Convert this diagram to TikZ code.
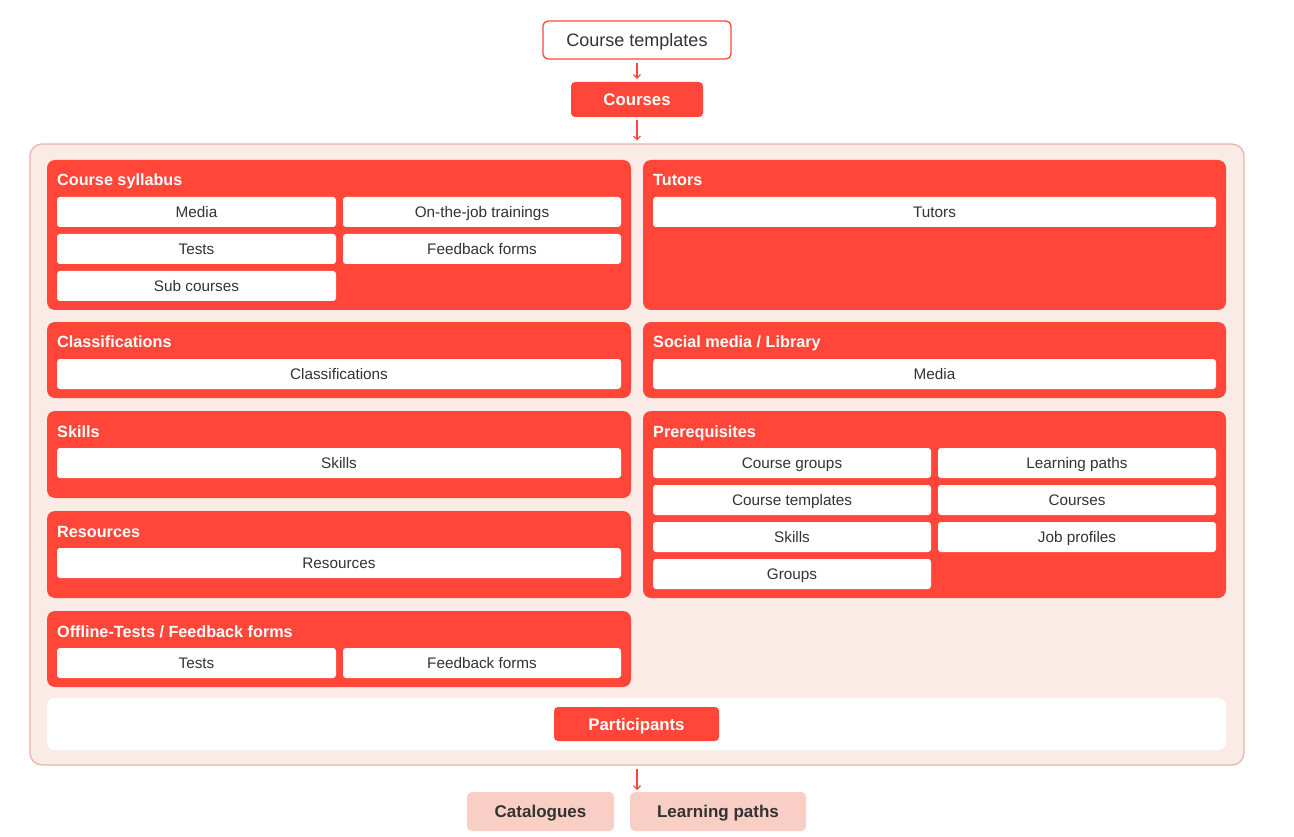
\documentclass[tikz,border=0pt]{standalone}
\usepackage{fontspec}
\setmainfont{Liberation Sans}
\usetikzlibrary{arrows.meta}
\definecolor{redA}{HTML}{FF4638}
\definecolor{outerfill}{HTML}{FBEBE7}
\definecolor{outerdraw}{HTML}{E8B2A5}
\definecolor{pinkbox}{HTML}{F8CEC5}
\definecolor{txt}{HTML}{333333}
\newcommand\bx[7]{\node[#6, minimum width={(#4-#2)*1pt}, minimum height={(#5-#3)*1pt}] (#1) at ({(#2+#4)/2},{(#3+#5)/2}) {#7};}
\newcommand\hd[4]{\node[head] (#1) at (#2,#3) {#4};}
\tikzset{
  panel/.style={fill=redA, rounded corners=8pt, inner sep=0pt},
  item/.style={fill=white, rounded corners=3pt, inner sep=0pt, text=txt, text height=11pt, text depth=0pt, font=\fontsize{15.3}{17}\selectfont},
  head/.style={anchor=base west, inner sep=0pt, text=white, font=\bfseries\fontsize{16.2}{18}\selectfont},
  topwhite/.style={draw=redA, line width=1.3pt, fill=white, rounded corners=5pt, inner sep=0pt, text=txt, text height=12.9pt, text depth=0pt, font=\fontsize{18}{20}\selectfont},
  topred/.style={fill=redA, rounded corners=4pt, inner sep=0pt, text=white, text height=12pt, text depth=0pt, font=\bfseries\fontsize{16.8}{19}\selectfont},
  pinkb/.style={fill=pinkbox, rounded corners=5pt, inner sep=0pt, text=txt, text height=12.2pt, text depth=0pt, font=\bfseries\fontsize{17}{19}\selectfont},
  arr/.style={draw=redA, line width=1.1pt, -{Straight Barb[length=3.5pt,width=7pt]}, shorten <=3pt, shorten >=3pt},
}
\begin{document}
\begin{tikzpicture}[x=1pt,y=-1pt]
\useasboundingbox (0,0) rectangle (1294,837);
% top
\bx{ct}{543}{21}{731}{59}{topwhite}{Course templates}
\bx{cs}{571}{82}{703}{117}{topred}{Courses}
% outer container
\bx{outer}{30}{144}{1244}{765}{draw=outerdraw, line width=1.2pt, fill=outerfill, rounded corners=12pt, inner sep=0pt}{}
\draw[arr] (ct.south) -- (cs.north);
\draw[arr] (cs.south) -- (outer.north);
% panels left
\bx{p1}{47}{160}{631}{310}{panel}{}
\bx{p2}{47}{322}{631}{398}{panel}{}
\bx{p3}{47}{411}{631}{498}{panel}{}
\bx{p4}{47}{511}{631}{598}{panel}{}
\bx{p5}{47}{611}{631}{687}{panel}{}
% panels right
\bx{q1}{643}{160}{1226}{310}{panel}{}
\bx{q2}{643}{322}{1226}{398}{panel}{}
\bx{q3}{643}{411}{1226}{598}{panel}{}
% headers
\hd{h1}{57}{186}{Course syllabus}
\hd{h2}{57}{348}{Classifications}
\hd{h3}{57}{437}{Skills}
\hd{h4}{57}{537}{Resources}
\hd{h5}{57}{637}{Offline-Tests / Feedback forms}
\hd{g1}{653}{186}{Tutors}
\hd{g2}{653}{348}{Social media / Library}
\hd{g3}{653}{437}{Prerequisites}
% course syllabus items
\bx{a1}{57}{197}{336}{227}{item}{Media}
\bx{a2}{343}{197}{621}{227}{item}{On-the-job trainings}
\bx{a3}{57}{234}{336}{264}{item}{Tests}
\bx{a4}{343}{234}{621}{264}{item}{Feedback forms}
\bx{a5}{57}{271}{336}{301}{item}{Sub courses}
\bx{b1}{57}{359}{621}{389}{item}{Classifications}
\bx{c1}{57}{448}{621}{478}{item}{Skills}
\bx{d1}{57}{548}{621}{578}{item}{Resources}
\bx{e1}{57}{648}{336}{678}{item}{Tests}
\bx{e2}{343}{648}{621}{678}{item}{Feedback forms}
% right items
\bx{t1}{653}{197}{1216}{227}{item}{Tutors}
\bx{s1}{653}{359}{1216}{389}{item}{Media}
\bx{r1}{653}{448}{931}{478}{item}{Course groups}
\bx{r2}{938}{448}{1216}{478}{item}{Learning paths}
\bx{r3}{653}{485}{931}{515}{item}{Course templates}
\bx{r4}{938}{485}{1216}{515}{item}{Courses}
\bx{r5}{653}{522}{931}{552}{item}{Skills}
\bx{r6}{938}{522}{1216}{552}{item}{Job profiles}
\bx{r7}{653}{559}{931}{589}{item}{Groups}
% participants
\bx{pstrip}{47}{698}{1226}{750}{fill=white, rounded corners=8pt, inner sep=0pt}{}
\bx{part}{554}{707}{719}{741}{topred}{Participants}
% bottom
\bx{cat}{467}{792}{614}{831}{pinkb}{Catalogues}
\bx{lp}{630}{792}{806}{831}{pinkb}{Learning paths}
\coordinate (lowin) at (637,790);
\draw[arr, shorten >=0pt] (outer.south) -- (lowin);
\end{tikzpicture}
\end{document}
